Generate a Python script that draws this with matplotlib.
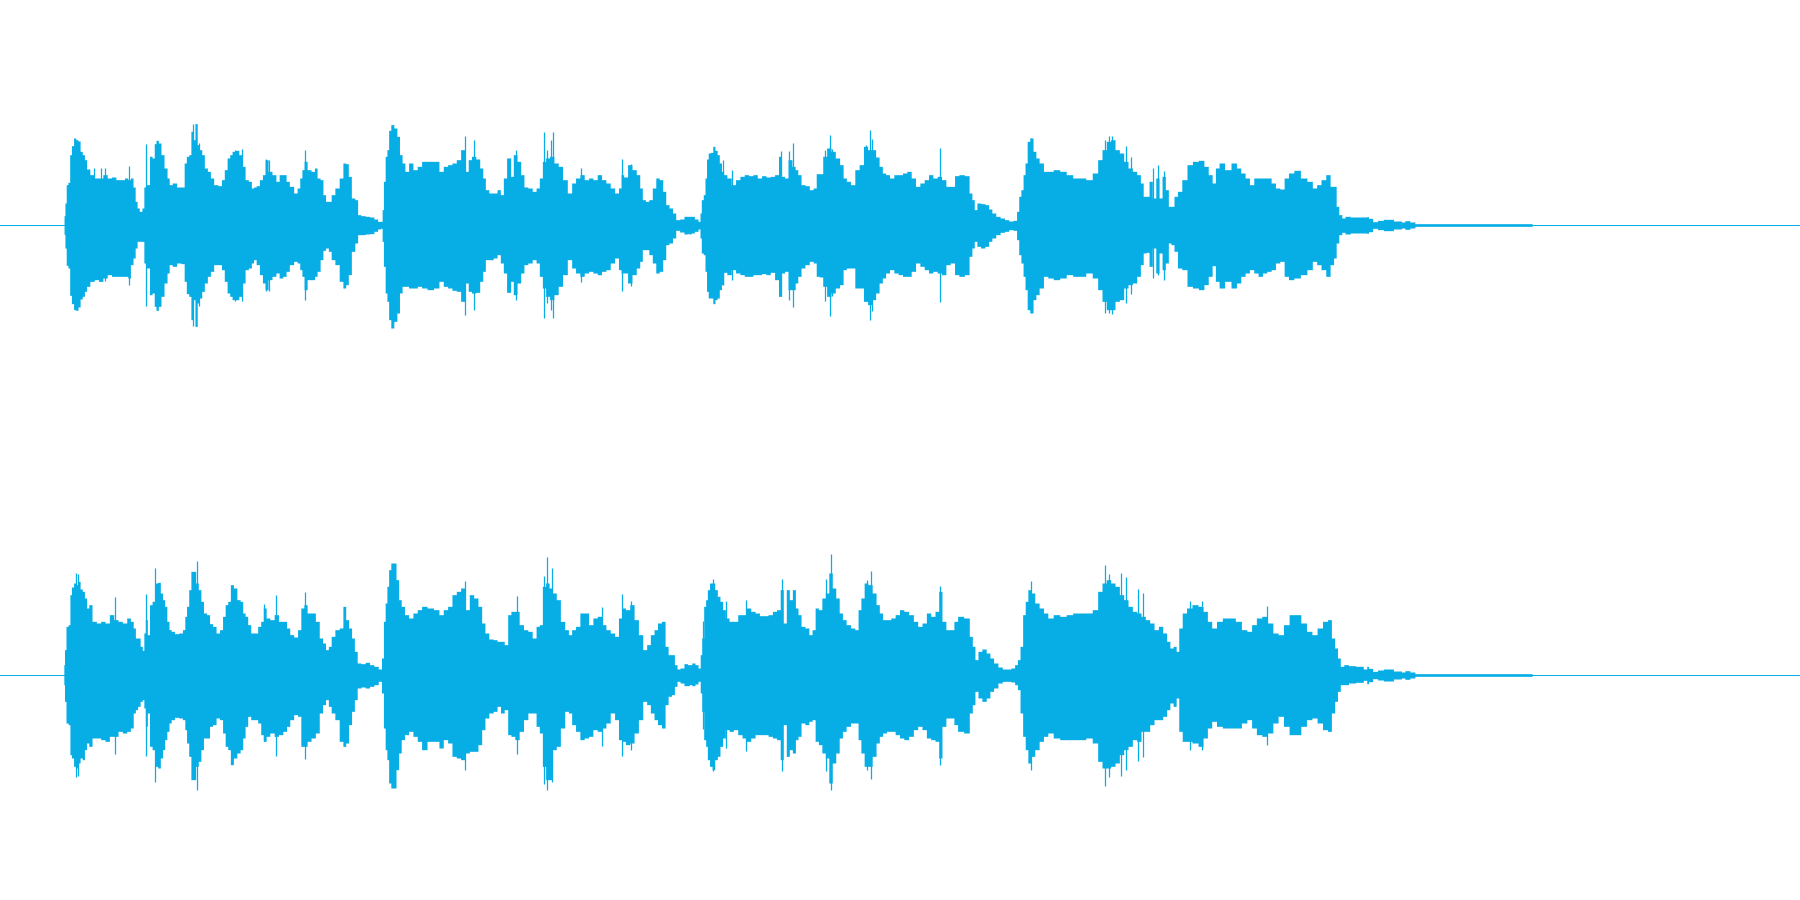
import matplotlib
matplotlib.use("Agg")
import matplotlib.pyplot as plt
import numpy as np

COLOR = "#07aee6"
CENTER = 376      # silence level, in the units the envelopes were read in
SEG_B = 1499      # start of the second half of the clip

# envelope readings: (position, upper edge, lower edge)
top_a = [(55,376,376),(56,348,404),(59,310,445),(62,255,497),(67,248,505),(70,165,587),(75,138,612),(80,115,630),(85,120,632),(90,124,622),
(95,155,598),(100,165,590),(105,180,575),(110,208,560),(120,225,545),(130,235,540),(140,235,545),(150,225,535),(160,235,525),(170,232,530),
(180,240,530),(190,240,530),(200,235,530),(205,240,535),(212,235,495),(217,262,475),(222,305,445),(226,325,425),(232,335,425),(238,325,425),
(241,262,490),(250,255,505),(255,170,585),(262,175,580),(265,132,620),(270,122,632),(276,130,620),(282,165,590),(290,205,550),(296,235,520),
(300,255,495),(310,250,500),(320,262,490),(330,262,492),(335,190,545),(340,170,582),(346,165,590),(350,95,660),(355,120,600),(360,72,680),
(365,135,610),(370,150,595),(376,165,575),(382,205,550),(390,215,530),(396,235,515),(405,255,495),(415,258,495),(422,240,510),(428,210,545),
(435,175,580),(440,165,590),(446,155,600),(455,152,600),(462,165,590),(470,200,550),(476,240,510),(485,245,505),(490,265,490),(495,262,480),
(502,258,495),(510,240,525),(516,225,550),(522,180,570),(530,215,540),(540,225,530),(548,245,520),(555,225,535),(565,225,530),(570,245,515),
(580,260,495),(590,280,485),(596,265,490),(602,235,510),(606,210,530),(612,185,570),(620,210,540),(630,215,540),(636,205,530),(642,235,515),
(650,240,480),(655,285,452),(662,305,445),(668,305,455),(675,285,480),(685,265,495),(695,235,545),(702,190,565),(708,192,555),(714,230,525),
(722,295,455),(730,300,430),(735,345,405),(745,348,405),(755,350,403),(765,352,402),(775,358,395),(782,365,388),(788,365,386),(790,330,425),
(794,245,500),(798,170,580),(802,150,605),(806,92,660),(812,75,685),(820,85,665),(826,110,640),(832,165,580),(838,190,560),(845,215,560),
(855,190,565),(865,210,565),(875,200,560),(885,185,565),(900,185,570),(915,185,565),(925,215,545),(935,200,560),(945,195,565),(955,190,572),
(965,180,575),(975,150,605),(985,215,550),(990,180,575),(1000,170,580),(1010,178,578),(1018,205,545),(1024,235,515),(1030,270,480),(1040,280,480),
(1050,280,475),(1058,270,465),(1065,285,490),(1072,235,520),(1080,175,578),(1088,230,545),(1095,165,585),(1105,185,550),(1112,225,520),(1120,262,495),
(1130,265,490),(1140,275,480),(1148,265,490),(1155,235,530),(1162,185,565),(1170,175,590),(1180,170,600),(1190,190,585),(1200,200,560),(1210,240,525),
(1222,280,480),(1230,250,505),(1240,235,520),(1250,225,530),(1260,240,520),(1270,235,515),(1280,240,520),(1290,225,525),(1300,240,515),(1310,250,510),
(1320,265,490),(1330,280,475),(1338,265,510),(1342,225,520),(1350,232,520),(1360,195,550),(1370,210,525),(1380,225,505),(1386,265,485),(1392,300,450),
(1400,305,450),(1408,300,465),(1416,265,490),(1424,235,520),(1432,240,515),(1440,275,480),(1446,315,435),(1455,325,430),(1462,340,415),(1470,360,392),
(1480,358,397),(1490,350,403),(1496,350,402)]

top_b = [(0,350,403),(5,350,400),(15,358,395),(22,365,388),(24,340,415),(28,300,460),(33,285,465),(36,235,515),(40,178,575),(44,160,595),
(50,158,595),(55,140,612),(60,152,600),(65,165,595),(70,190,570),(75,215,555),(80,225,518),(90,235,525),(100,255,510),(110,240,520),
(120,230,525),(130,225,530),(140,228,530),(150,225,525),(160,235,525),(170,228,522),(180,232,525),(190,230,518),(200,225,540),(208,170,590),
(214,230,520),(222,235,515),(230,180,570),(240,200,570),(245,210,550),(252,225,530),(260,255,505),(270,258,495),(280,270,485),(288,265,490),
(294,222,530),(302,222,532),(310,170,560),(320,145,590),(330,155,580),(340,175,565),(350,195,555),(356,235,510),(365,245,505),(375,255,505),
(385,210,565),(395,195,565),(405,140,605),(414,150,615),(424,150,600),(432,172,580),(440,200,550),(447,220,535),(455,225,520),(465,235,510),
(475,225,520),(485,225,525),(495,220,530),(505,215,530),(515,235,515),(525,260,490),(535,250,500),(545,240,510),(555,225,520),(565,235,515),
(575,230,520),(585,240,525),(595,260,495),(605,260,490),(615,228,525),(625,225,530),(640,228,525),(647,280,470),(653,300,445),(658,330,425),
(665,310,440),(675,312,445),(685,315,440),(692,328,425),(700,340,415),(710,350,405),(720,355,398),(730,360,395),(740,364,390),(750,362,392),
(756,335,420),(760,290,465),(766,270,490),(770,225,530),(775,190,570),(780,125,630),(787,115,640),(795,155,600),(800,175,585),(810,190,565),
(820,215,530),(830,215,535),(845,210,540),(860,215,535),(875,225,525),(890,235,530),(905,235,530),(920,240,520),(935,220,535),(945,180,570),
(955,150,605),(965,125,630),(975,120,630),(985,150,605),(995,160,600),(1005,185,565),(1015,205,555),(1025,215,550),(1035,225,530),(1042,250,495),
(1048,290,460),(1055,290,458),(1062,245,500),(1070,295,445),(1078,235,520),(1085,295,460),(1092,230,510),(1100,270,490),(1106,320,430),(1112,320,435),
(1120,290,455),(1128,275,505),(1140,240,510),(1152,195,560),(1165,185,565),(1180,182,570),(1190,200,555),(1200,225,530),(1208,250,498),(1215,205,545),
(1225,190,565),(1240,210,545),(1255,190,565),(1265,205,550),(1275,220,530),(1285,235,520),(1295,255,510),(1305,235,520),(1315,235,530),(1325,235,520),
(1335,235,515),(1345,250,510),(1355,265,490),(1365,268,485),(1375,235,530),(1385,220,540),(1400,212,535),(1415,235,525),(1430,245,510),(1440,265,485),
(1450,255,495),(1460,240,510),(1472,225,530),(1480,260,495),(1488,260,475),(1492,320,430),(1500,345,405),(1506,355,398),(1515,350,403),(1530,352,400),
(1545,352,400),(1560,352,400)]

# the fading tail, both channels
top_tail = [(3060,351,401),(3067,356,396),(3079,366,386),(3090,362,390),(3106,359,393),(3136,364,388),(3143,367,385),(3152,363,389),(3166,367,385),(3175,372,380),(3441,372,380)]
bot_tail = [(3060,350,402),(3067,356,396),(3079,365,387),(3090,361,391),(3106,358,394),(3136,364,388),(3143,367,385),(3152,363,389),(3166,367,385),(3175,372,380),(3441,372,380)]

bot_a = [(55,345,405),(58,300,455),(62,230,520),(68,225,525),(70,135,615),(75,112,625),(80,100,650),(85,105,655),(90,95,640),(95,118,625),
(100,125,630),(105,145,600),(110,175,580),(115,165,590),(125,215,565),(135,220,565),(145,215,570),(155,220,575),(165,195,560),(175,210,560),
(185,215,545),(195,220,550),(205,205,545),(212,215,535),(218,235,490),(222,265,480),(228,265,470),(234,290,455),(238,302,450),(241,250,475),
(245,210,530),(250,255,490),(255,165,590),(262,155,600),(268,100,650),(275,98,655),(280,130,625),(285,150,600),(290,170,570),(295,215,545),
(300,240,520),(305,245,510),(315,252,503),(325,250,505),(332,240,510),(336,200,540),(340,170,580),(346,120,620),(350,65,690),(356,65,690),
(362,100,650),(368,120,635),(374,155,600),(380,190,565),(388,195,565),(394,222,530),(402,230,525),(410,250,505),(418,240,510),(424,200,550),
(430,165,590),(436,155,600),(442,105,645),(450,115,625),(458,150,610),(465,155,600),(470,190,565),(476,200,530),(482,225,500),(490,250,510),
(498,250,510),(506,230,520),(512,215,555),(518,175,575),(525,205,560),(535,210,550),(545,195,560),(555,215,555),(565,215,545),(572,235,530),
(580,255,510),(590,262,495),(598,240,500),(605,175,590),(612,165,590),(620,190,575),(630,190,565),(640,215,550),(648,265,490),(655,280,465),
(662,300,450),(668,290,470),(675,260,490),(685,240,510),(695,235,575),(702,170,590),(708,210,580),(715,235,525),(722,265,485),(728,305,450),
(735,340,415),(745,342,412),(755,338,415),(765,345,410),(775,350,405),(785,358,395),(790,325,430),(794,215,535),(798,160,600),(802,110,630),
(806,60,700),(812,40,715),(818,40,715),(824,90,660),(830,150,610),(836,170,570),(845,195,555),(855,205,545),(865,190,560),(875,180,575),
(885,170,600),(900,175,575),(915,180,575),(925,195,595),(935,180,570),(945,170,580),(955,135,620),(965,125,625),(975,115,630),(985,180,610),
(995,135,605),(1005,145,605),(1015,170,585),(1022,220,540),(1030,250,505),(1040,268,490),(1050,270,485),(1058,275,470),(1066,275,490),(1075,285,480),
(1082,195,555),(1090,185,560),(1100,185,570),(1110,225,545),(1120,240,510),(1130,245,490),(1140,265,490),(1148,230,530),(1155,225,550),(1162,110,650),
(1170,100,690),(1178,115,690),(1186,130,600),(1195,150,590),(1205,215,535),(1215,240,485),(1222,255,490),(1230,240,525),(1240,230,545),(1250,190,570),
(1260,190,565),(1270,225,560),(1280,205,540),(1290,200,545),(1300,225,535),(1310,240,520),(1320,250,490),(1330,260,510),(1338,205,570),(1345,175,575),
(1355,180,585),(1365,165,580),(1375,210,550),(1385,255,510),(1395,300,455),(1403,285,465),(1412,255,490),(1420,240,510),(1428,220,525),(1438,215,535),
(1445,290,465),(1452,315,440),(1460,315,435),(1466,345,410),(1472,358,395),(1480,355,400),(1490,342,408),(1496,345,408)]

bot_b = [(0,345,405),(8,340,408),(15,345,403),(22,355,395),(25,315,430),(29,265,485),(34,170,570),(38,150,590),(42,120,630),(48,100,650),
(54,100,660),(60,120,630),(66,140,620),(72,155,590),(78,180,565),(85,205,540),(95,215,545),(105,215,540),(115,195,555),(125,195,565),
(135,175,575),(145,185,565),(155,190,555),(165,198,555),(175,198,555),(185,195,560),(195,185,565),(204,180,570),(212,120,630),(218,220,525),
(226,120,620),(232,150,600),(240,120,610),(246,175,570),(252,195,560),(260,230,520),(270,235,525),(278,255,515),(285,240,510),(292,175,575),
(300,180,585),(308,145,610),(316,130,625),(324,70,700),(332,115,640),(340,145,610),(348,190,565),(355,210,545),(365,225,530),(375,235,520),
(385,240,520),(390,180,570),(398,145,610),(405,100,650),(415,105,650),(425,130,620),(433,165,580),(440,190,560),(448,210,550),(458,210,545),
(468,205,545),(478,195,555),(488,180,565),(498,185,570),(510,195,560),(520,215,540),(530,230,530),(540,220,540),(550,190,565),(560,200,570),
(570,185,575),(577,125,625),(585,215,530),(595,240,505),(605,240,505),(612,215,525),(622,200,545),(640,205,550),(648,260,490),(654,290,465),
(660,330,425),(668,305,445),(678,298,455),(688,310,445),(695,325,425),(705,340,415),(715,352,400),(725,358,395),(735,358,395),(745,355,397),
(752,345,405),(758,330,420),(764,290,490),(770,195,560),(776,155,600),(782,120,640),(790,130,620),(800,160,600),(810,175,575),(820,190,560),
(830,205,550),(845,195,565),(860,200,570),(875,195,570),(890,190,570),(905,190,570),(920,190,565),(935,180,580),(945,125,635),(955,100,655),
(965,90,655),(975,100,650),(985,110,640),(995,135,615),(1005,150,600),(1015,170,590),(1025,185,570),(1035,190,575),(1045,200,545),(1055,210,545),
(1065,220,525),(1075,240,510),(1085,230,510),(1095,250,500),(1103,275,480),(1110,295,460),(1118,290,470),(1124,305,445),(1130,235,545),(1140,190,575),
(1150,175,575),(1165,165,580),(1178,170,590),(1188,185,565),(1198,215,535),(1208,235,515),(1220,215,530),(1235,205,535),(1250,205,535),(1265,215,535),
(1278,240,520),(1290,245,510),(1300,225,535),(1312,205,555),(1325,200,560),(1338,220,550),(1350,250,520),(1362,255,500),(1375,225,530),(1388,195,555),
(1402,195,555),(1415,220,530),(1428,245,510),(1440,255,505),(1452,235,520),(1465,215,540),(1475,210,545),(1483,265,490),(1490,295,455),(1496,325,425),
(1503,350,405),(1512,345,405),(1525,348,400),(1545,350,398),(1560,358,392)]

# single tall samples sticking out of the envelope: (position, top, bottom)
top_spikes_a = [(245,132,620),(352,72,680),(360,72,680),(367,130,620),(450,150,605),(465,148,605),(610,150,602),(981,108,645),(1001,120,630),
(1163,98,655),(1184,98,655),(1179,122,630),(1170,150,610),(1098,150,602),(1083,175,578),(1343,178,575),(1362,192,560),(1248,205,548),(522,178,575),
(528,180,575),(205,198,555),(125,205,540),(150,205,545),(140,205,545)]
top_spikes_b = [(209,155,590),(229,153,600),(238,130,622),(311,150,603),(323,105,648),(328,148,590),(405,135,605),(414,90,662),(420,118,635),
(577,145,608),(75,182,557),(96,210,542),(787,115,638),(957,120,640),(966,110,640),(974,108,643),(1016,172,582),(1005,140,610),(1068,205,535),(1080,195,525),(1092,213,540)]
bot_spikes_a = [(244,132,620),(266,55,698),(361,33,720),(545,135,618),(610,127,627),(82,70,683),(88,72,680),(172,142,612),(981,93,660),(1170,22,720),
(1180,55,698),(1163,78,702),(1343,132,620),(1099,140,612),(1363,155,600),(1297,172,590),(516,162,575)]
bot_spikes_b = [(324,12,720),(313,88,665),(212,88,665),(418,65,688),(408,90,662),(577,108,645),(958,45,708),(966,72,683),(993,70,680),(1005,82,660),
(787,93,660),(1032,118,635),(1045,130,622),(54,88,665),(30,215,537),(84,155,595),(128,150,603),(1180,153,600),(1154,153,600),(1331,168,585)]


def draw_channel(ax, seg_a, seg_b, tail, spikes_a, spikes_b):
    a = np.array(seg_a, dtype=float)
    b = np.array(seg_b, dtype=float)
    b[:, 0] += SEG_B
    env = np.vstack([a, b, np.array(tail, dtype=float)])
    ax.axhline(CENTER, color=COLOR, lw=0.72)
    # blocky edge, the clip is drawn as pixel columns
    ax.fill_between(env[:, 0], env[:, 1], env[:, 2], color=COLOR, lw=0, step="mid")
    sa = np.array(spikes_a, dtype=float)
    sb = np.array(spikes_b, dtype=float)
    ax.vlines(sa[:, 0], sa[:, 1], sa[:, 2], color=COLOR, lw=0.9)
    ax.vlines(sb[:, 0] + SEG_B, sb[:, 1], sb[:, 2], color=COLOR, lw=0.9)
    ax.set_xlim(-92.2, 4058.6)
    ax.set_ylim(CENTER + 675, CENTER - 675)
    ax.axis("off")


fig = plt.figure(figsize=(18, 9), dpi=100)
ax1 = fig.add_axes([0, 0.5, 1, 0.5])
ax2 = fig.add_axes([0, 0, 1, 0.5])
draw_channel(ax1, top_a, top_b, top_tail, top_spikes_a, top_spikes_b)
draw_channel(ax2, bot_a, bot_b, bot_tail, bot_spikes_a, bot_spikes_b)
fig.savefig("out.png", dpi=100)
